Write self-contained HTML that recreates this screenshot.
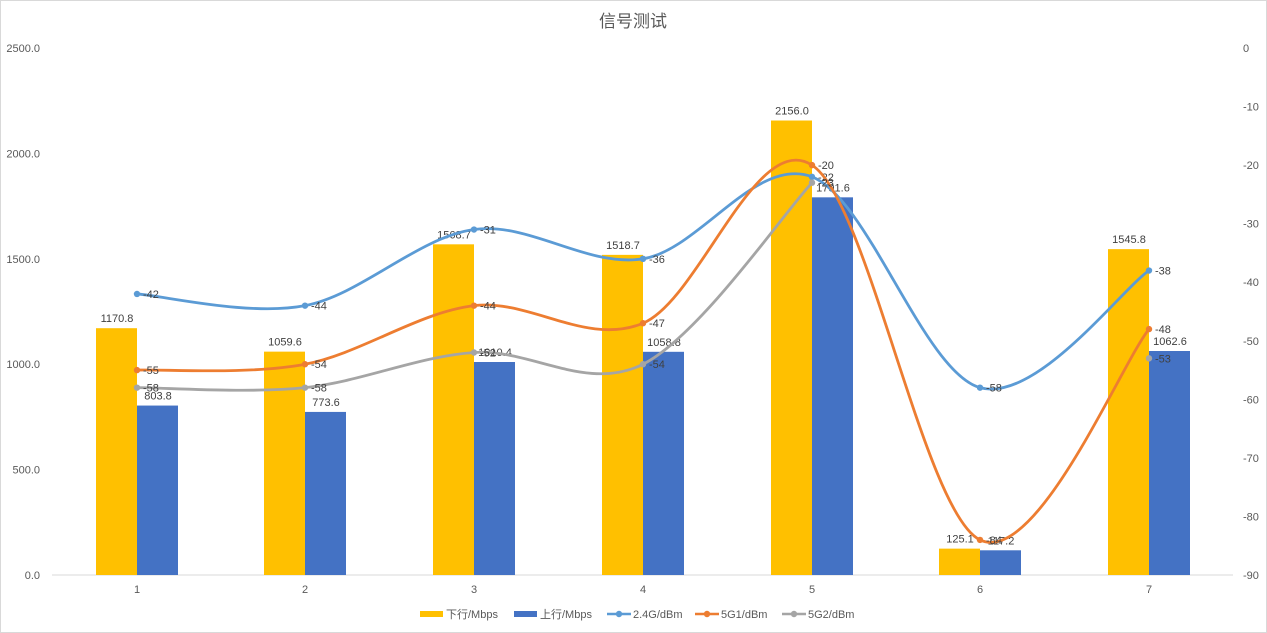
<!DOCTYPE html>
<html><head><meta charset="utf-8"><style>
body{margin:0;background:#fff}
svg{display:block;font-family:"Liberation Sans","Noto Sans CJK SC",sans-serif}
</style></head><body>
<svg id="c" width="1267" height="633" xmlns="http://www.w3.org/2000/svg">
<rect x="0.5" y="0.5" width="1266" height="632" fill="#fff" stroke="#d9d9d9"/>
<text x="633" y="27" text-anchor="middle" font-size="17" fill="#595959">信号测试</text>
<line x1="52" y1="575" x2="1233" y2="575" stroke="#d9d9d9"/>
<g id="g"></g>
</svg>
<script>
const g=document.getElementById('g');let h='';
const X=[137,305,474,643,812,980,1149];
const yl=v=>575-v*0.2108, yr=v=>48-v*5.856;
for(let i=0;i<=5;i++){const v=i*500;h+=`<text x="40" y="${yl(v)+4}" text-anchor="end" font-size="11" fill="#595959">${v.toFixed(1)}</text>`;}
for(let i=0;i<=9;i++){const v=-i*10;h+=`<text x="1243" y="${yr(v)+4}" font-size="11" fill="#595959">${v}</text>`;}
X.forEach((x,i)=>h+=`<text x="${x}" y="593" text-anchor="middle" font-size="11" fill="#595959">${i+1}</text>`);
const down=[1170.8,1059.6,1568.7,1518.7,2156.0,125.1,1545.8],up=[803.8,773.6,1010.4,1058.8,1791.6,117.2,1062.6];
X.forEach((x,i)=>{
h+=`<rect x="${x-41}" y="${yl(down[i])}" width="41" height="${575-yl(down[i])}" fill="#ffc000"/>`;
h+=`<rect x="${x}" y="${yl(up[i])}" width="41" height="${575-yl(up[i])}" fill="#4472c4"/>`;
});
X.forEach((x,i)=>{
h+=`<text x="${x-20}" y="${yl(down[i])-6}" text-anchor="middle" font-size="11" fill="#404040">${down[i].toFixed(1)}</text>`;
h+=`<text x="${x+21}" y="${yl(up[i])-6}" text-anchor="middle" font-size="11" fill="#404040">${up[i].toFixed(1)}</text>`;
});
const S=[[[-42,-44,-31,-36,-22,-58,-38],'#5b9bd5'],[[-55,-54,-44,-47,-20,-84,-48],'#ed7d31'],[[-58,-58,-52,-54,-23,null,-53],'#a5a5a5']];
S.forEach(([d,c])=>{
// split into contiguous segments
let segs=[],cur=[];
d.forEach((v,i)=>{if(v===null){if(cur.length)segs.push(cur);cur=[];}else cur.push([X[i],yr(v)]);});
if(cur.length)segs.push(cur);
segs.forEach(P=>{
if(P.length<2)return;
let p=`M${P[0][0]},${P[0][1]}`;
for(let i=0;i<P.length-1;i++){const a=P[Math.max(i-1,0)],b=P[i],e=P[i+1],f=P[Math.min(i+2,P.length-1)];
p+=` C${b[0]+(e[0]-a[0])/6},${b[1]+(e[1]-a[1])/6} ${e[0]-(f[0]-b[0])/6},${e[1]-(f[1]-b[1])/6} ${e[0]},${e[1]}`;}
h+=`<path d="${p}" fill="none" stroke="${c}" stroke-width="2.8" stroke-linecap="round"/>`;
});
d.forEach((v,i)=>{if(v===null)return;const q=[X[i],yr(v)];h+=`<circle cx="${q[0]}" cy="${q[1]}" r="3.2" fill="${c}"/><text x="${q[0]+6}" y="${q[1]+4}" font-size="11" fill="#404040">${v}</text>`;});
});
// legend
const L=[['下行/Mbps','#ffc000',0,420],['上行/Mbps','#4472c4',0,514],['2.4G/dBm','#5b9bd5',1,607],['5G1/dBm','#ed7d31',1,695],['5G2/dBm','#a5a5a5',1,782]];
L.forEach(([t,c,l,x])=>{
if(l)h+=`<line x1="${x}" y1="614" x2="${x+24}" y2="614" stroke="${c}" stroke-width="2.5"/><circle cx="${x+12}" cy="614" r="3.2" fill="${c}"/>`;
else h+=`<rect x="${x}" y="611" width="23" height="6" fill="${c}"/>`;
h+=`<text x="${x+26}" y="618" font-size="11" fill="#595959">${t}</text>`;});
g.innerHTML=h;
</script>
</body></html>
